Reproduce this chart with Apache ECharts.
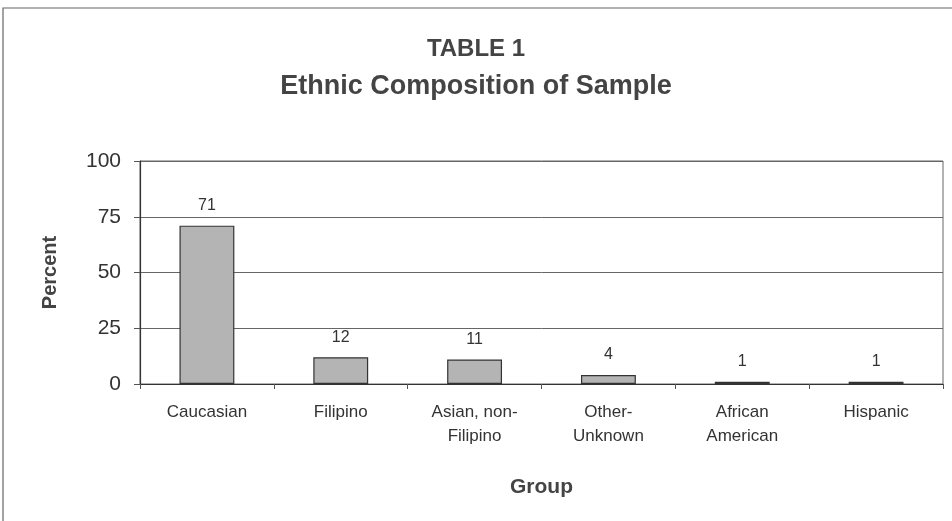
<!DOCTYPE html>
<html>
<head>
<meta charset="utf-8">
<script src="https://cdn.jsdelivr.net/npm/echarts@6/dist/echarts.min.js"></script>
<style>
  html, body { margin: 0; padding: 0; background: #fff; }
  #chart { width: 952px; height: 521px; }
</style>
</head>
<body>
<div id="chart"></div>
<script>
const groups = ['Caucasian', 'Filipino', 'Asian, non-\nFilipino', 'Other-\nUnknown', 'African\nAmerican', 'Hispanic'];
const percents = [71, 12, 11, 4, 1, 1];
const yTicks = [0, 25, 50, 75, 100];

const chart = echarts.init(document.getElementById('chart'));

const titleFont = { fontFamily: 'Liberation Sans', fontWeight: 'bold', color: '#444' };

const option = {
  backgroundColor: '#fff',
  animation: false,
  title: {
    text: '{a|TABLE 1}\n{b|Ethnic Composition of Sample}',
    left: 'center',
    top: 26,
    textStyle: {
      rich: {
        a: Object.assign({ fontSize: 24, lineHeight: 36 }, titleFont),
        b: Object.assign({ fontSize: 27, lineHeight: 40 }, titleFont)
      }
    }
  },
  graphic: [{
    type: 'rect',
    shape: { x: 3, y: 8, width: 960, height: 530 },
    style: { fill: 'none', stroke: '#666', lineWidth: 1.2 },
    silent: true
  }],
  grid: { left: 140, right: 9, top: 161, bottom: 137, show: true, borderColor: '#666', borderWidth: 1 },
  xAxis: {
    type: 'category',
    data: groups,
    name: 'Group',
    nameLocation: 'middle',
    nameGap: 93,
    nameTextStyle: { fontFamily: 'Liberation Sans', fontSize: 21, fontWeight: 'bold', color: '#444' },
    axisLine: { lineStyle: { color: '#333', width: 1.2 } },
    axisTick: { show: true, length: 5, lineStyle: { color: '#555' } },
    axisLabel: { fontFamily: 'Liberation Sans', fontSize: 17, color: '#333', lineHeight: 24, margin: 16 }
  },
  yAxis: {
    type: 'value',
    min: yTicks[0],
    max: yTicks[yTicks.length - 1],
    interval: 25,
    name: 'Percent',
    nameLocation: 'middle',
    nameGap: 80,
    nameTextStyle: { fontFamily: 'Liberation Sans', fontSize: 20, fontWeight: 'bold', color: '#444' },
    axisLine: { show: true, lineStyle: { color: '#333', width: 1.2 } },
    axisTick: { show: true, length: 6, lineStyle: { color: '#555' } },
    axisLabel: { fontFamily: 'Liberation Sans', fontSize: 21, color: '#333', margin: 19 },
    splitLine: { lineStyle: { color: '#666', width: 1 } }
  },
  series: [{
    type: 'bar',
    data: percents,
    barWidth: '41%',
    itemStyle: { color: '#b4b4b4', borderColor: '#333', borderWidth: 1.2 },
    label: {
      show: true,
      position: 'top',
      distance: 12,
      fontFamily: 'Liberation Sans',
      fontSize: 16,
      color: '#333'
    }
  }]
};

chart.setOption(option);
</script>
</body>
</html>
